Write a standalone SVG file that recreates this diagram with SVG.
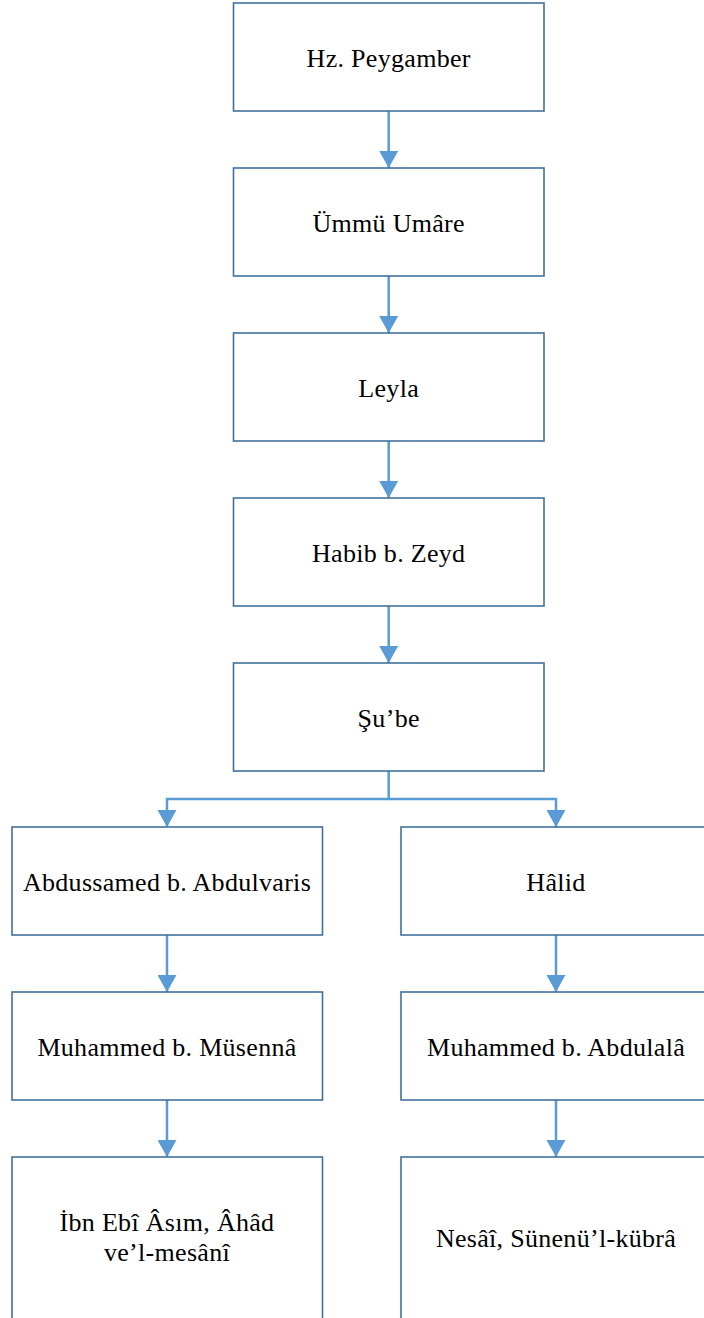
<svg xmlns="http://www.w3.org/2000/svg" width="704" height="1318" viewBox="0 0 704 1318">
<style>
.box{fill:#ffffff;stroke:#41719C;stroke-width:1.6}
.lbl{font-family:"Liberation Serif","Times New Roman",serif;font-size:26px;fill:#000000;text-anchor:middle;letter-spacing:0.3px}
.conn{fill:none;stroke:#5B9BD5;stroke-width:2.5}
</style>
<defs>
<marker id="arr" markerUnits="userSpaceOnUse" markerWidth="17" markerHeight="19" refX="17" refY="9.5" orient="auto">
<path d="M0,0 L17,9.5 L0,19 z" fill="#5B9BD5"/>
</marker>
</defs>
<rect width="704" height="1318" fill="#ffffff"/>
<g id="connectors">
<path class="conn" d="M388.7,111 V168" marker-end="url(#arr)"/>
<path class="conn" d="M388.7,276 V333" marker-end="url(#arr)"/>
<path class="conn" d="M388.7,441 V498" marker-end="url(#arr)"/>
<path class="conn" d="M388.7,606 V663" marker-end="url(#arr)"/>
<path class="conn" d="M388.7,771 V799 H167 V827" marker-end="url(#arr)"/>
<path class="conn" d="M388.7,799 H556 V827" marker-end="url(#arr)"/>
<path class="conn" d="M167,935 V992" marker-end="url(#arr)"/>
<path class="conn" d="M167,1100 V1157" marker-end="url(#arr)"/>
<path class="conn" d="M556,935 V992" marker-end="url(#arr)"/>
<path class="conn" d="M556,1100 V1157" marker-end="url(#arr)"/>
</g>
<g id="n1"><rect class="box" x="233.5" y="3" width="310.5" height="108"/><text class="lbl" x="388.7" y="66.5">Hz. Peygamber</text></g>
<g id="n2"><rect class="box" x="233.5" y="168" width="310.5" height="108"/><text class="lbl" x="388.7" y="231.5">Ümmü Umâre</text></g>
<g id="n3"><rect class="box" x="233.5" y="333" width="310.5" height="108"/><text class="lbl" x="388.7" y="396.5">Leyla</text></g>
<g id="n4"><rect class="box" x="233.5" y="498" width="310.5" height="108"/><text class="lbl" x="388.7" y="561.5">Habib b. Zeyd</text></g>
<g id="n5"><rect class="box" x="233.5" y="663" width="310.5" height="108"/><text class="lbl" x="388.7" y="726.5">Şu’be</text></g>
<g id="n6"><rect class="box" x="12" y="827" width="310.5" height="108"/><text class="lbl" x="167" y="890.5">Abdussamed b. Abdulvaris</text></g>
<g id="n7"><rect class="box" x="12" y="992" width="310.5" height="108"/><text class="lbl" x="167" y="1055.5">Muhammed b. Müsennâ</text></g>
<g id="n8"><rect class="box" x="12" y="1157" width="310.5" height="170"/><text class="lbl" x="167" y="1231">İbn Ebî Âsım, Âhâd</text><text class="lbl" x="167" y="1261">ve’l-mesânî</text></g>
<g id="n9"><rect class="box" x="401" y="827" width="310" height="108"/><text class="lbl" x="556" y="890.5">Hâlid</text></g>
<g id="n10"><rect class="box" x="401" y="992" width="310" height="108"/><text class="lbl" x="556" y="1055.5">Muhammed b. Abdulalâ</text></g>
<g id="n11"><rect class="box" x="401" y="1157" width="310" height="170"/><text class="lbl" x="556" y="1247">Nesâî, Sünenü’l-kübrâ</text></g>
</svg>
